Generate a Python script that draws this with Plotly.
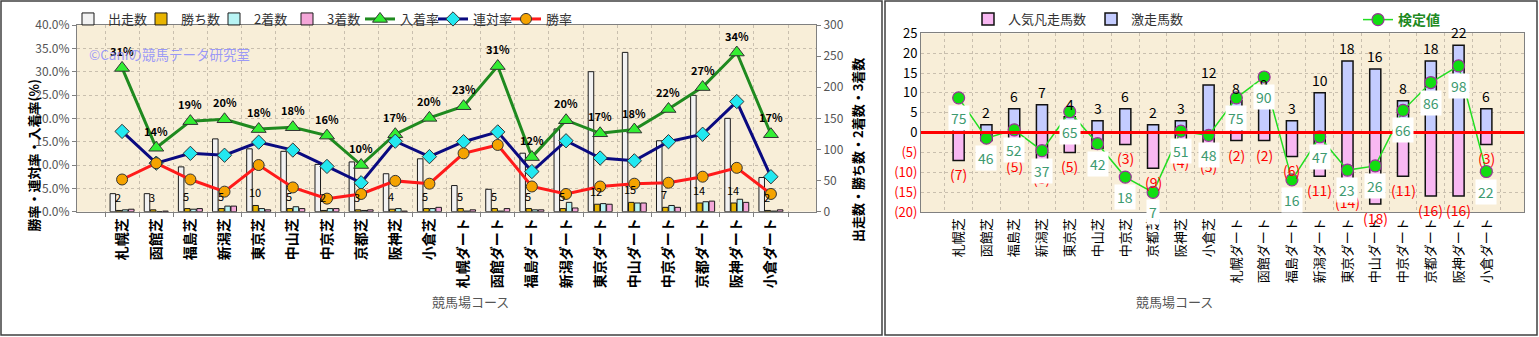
import plotly.graph_objects as go

# ---------------- data ----------------
courses = ["札幌芝", "函館芝", "福島芝", "新潟芝", "東京芝", "中山芝", "中京芝", "京都芝", "阪神芝", "小倉芝",
           "札幌ダート", "函館ダート", "福島ダート", "新潟ダート", "東京ダート", "中山ダート", "中京ダート",
           "京都ダート", "阪神ダート", "小倉ダート"]

runs = [29, 29, 72, 117, 101, 97, 76, 80, 61, 85, 42, 36, 94, 133, 225, 256, 114, 187, 150, 55]
wins = [2, 3, 5, 5, 10, 5, 2, 3, 4, 5, 5, 5, 5, 5, 12, 15, 7, 14, 14, 2]
seconds = [3, 0, 4, 9, 5, 8, 5, 2, 5, 5, 1, 1, 3, 15, 13, 14, 10, 16, 20, 1]
thirds = [4, 1, 5, 9, 3, 5, 5, 3, 1, 7, 3, 5, 3, 6, 12, 14, 7, 17, 15, 3]

win_rate = [6.9, 10.4, 6.9, 4.3, 10.0, 5.2, 2.8, 3.8, 6.6, 6.0, 12.5, 14.3, 5.4, 3.8, 5.4, 6.0, 6.2, 7.5, 9.4, 3.8]
rentai_rate = [17.2, 10.4, 12.5, 12.1, 14.9, 13.2, 9.7, 6.2, 15.1, 11.8, 15.0, 17.1, 8.6, 15.2, 11.5, 10.9, 15.0,
               16.6, 23.6, 7.5]
place_rate = [30.8, 13.7, 19.4, 19.8, 17.7, 18.1, 16.3, 10.0, 16.6, 20.1, 22.6, 31.2, 11.7, 19.6, 16.8, 17.6, 22.0,
              26.7, 34.1, 16.6]

geki = [1, 2, 6, 7, 4, 3, 6, 2, 3, 12, 8, 9, 3, 10, 18, 16, 8, 18, 22, 6]          # 激走馬数
bonso = [7, 2, 5, 8, 5, 4, 3, 9, 4, 5, 2, 2, 6, 11, 14, 18, 11, 16, 16, 3]         # 人気凡走馬数
kentei = [75, 46, 52, 37, 65, 42, 18, 7, 51, 48, 75, 90, 16, 47, 23, 26, 66, 86, 98, 22]  # 検定値

W, H = 1539, 337
FONT = "Noto Sans CJK JP"


def px(x):
    return x / W


def py(y):
    return 1 - y / H


fig = go.Figure()

# ---------------- left chart: bars (counts, base axis y) ----------------
bar_specs = [("出走数", runs, "#f2f2f2"), ("勝ち数", wins, "#e8b400"),
             ("2着数", seconds, "#b8f4f4"), ("3着数", thirds, "#f4a6d8")]
for name, vals, col in bar_specs:
    fig.add_trace(go.Bar(x=courses, y=vals, name=name, xaxis="x", yaxis="y",
                         marker=dict(color=col, line=dict(color="#1a1a1a", width=1)),
                         legend="legend"))

# lines (percent, overlay axis y2)
line_specs = [("入着率", place_rate, "#1f8a1f", "triangle-up", "#33ee33", 13),
              ("連対率", rentai_rate, "#0a0a80", "diamond", "#22e8f0", 11),
              ("勝率", win_rate, "#ff1a1a", "circle", "#f5a300", 11)]
for name, vals, lc, sym, mc, ms in line_specs:
    fig.add_trace(go.Scatter(x=courses, y=vals, name=name, xaxis="x", yaxis="y2",
                             mode="lines+markers", line=dict(color=lc, width=3),
                             marker=dict(symbol=sym, color=mc, size=ms, line=dict(color="#333333", width=1)),
                             legend="legend"))

# ---------------- right chart ----------------
fig.add_trace(go.Bar(x=courses, y=[-v for v in bonso], name="人気凡走馬数", xaxis="x2", yaxis="y3",
                     offsetgroup="r", width=0.4,
                     marker=dict(color="#f8b8f2", line=dict(color="#111111", width=1.5)),
                     legend="legend2"))
fig.add_trace(go.Bar(x=courses, y=geki, name="激走馬数", xaxis="x2", yaxis="y3",
                     offsetgroup="r", width=0.4,
                     marker=dict(color="#c4ccff", line=dict(color="#111111", width=1.5)),
                     legend="legend2"))
fig.add_trace(go.Scatter(x=courses, y=kentei, name="<b>検定値</b>", xaxis="x2", yaxis="y4",
                         mode="lines+markers", line=dict(color="#22dd22", width=1.5),
                         marker=dict(symbol="circle", color="#11dd11", size=12,
                                     line=dict(color="#993399", width=1.2)),
                         legend="legend3"))

# ---------------- axes ----------------
grid = dict(showgrid=True, gridcolor="#c9bfae", griddash="dot", gridwidth=1)
tickfont = dict(family=FONT, size=12, color="#555555")

fig.update_layout(
    xaxis=dict(domain=[px(77), px(816)], anchor="y", type="category", tickson="boundaries",
               tickangle=-90, tickfont=dict(family=FONT, size=14, color="#000000"),
               tickvals=courses, ticktext=[f"<b>{c}</b>" for c in courses],
               showline=True, linecolor="#808080", mirror=True, automargin=False,
               ticks="outside", ticklen=4, tickcolor="#808080", **grid),
    yaxis=dict(domain=[py(211.7), py(25)], anchor="x", side="right", range=[0, 300], dtick=50,
               tickfont=tickfont, showgrid=False, zeroline=False, showline=True, linecolor="#808080",
               ticks="outside", ticklen=4, tickcolor="#808080", automargin=False),
    yaxis2=dict(overlaying="y", anchor="x", side="left", range=[0, 40], dtick=5,
                tickformat=".1f", ticksuffix="%", tickfont=tickfont, zeroline=False, automargin=False,
                showline=True, linecolor="#808080", ticks="outside", ticklen=4, tickcolor="#808080", **grid),
    xaxis2=dict(domain=[px(921), px(1524)], anchor="y3", type="category", tickson="boundaries",
                tickangle=-90, tickfont=dict(family=FONT, size=13, color="#000000"), automargin=False,
                showline=True, linecolor="#808080", mirror=True, **grid),
    yaxis3=dict(domain=[py(212), py(33.3)], anchor="x2", range=[-20, 25],
                tickvals=[-20, -15, -10, -5, 0, 5, 10, 15, 20, 25],
                ticktext=['<span style="color:#ff0000">(20)</span>', '<span style="color:#ff0000">(15)</span>',
                          '<span style="color:#ff0000">(10)</span>', '<span style="color:#ff0000">(5)</span>',
                          "0", "5", "10", "15", "20", "25"],
                tickfont=dict(family=FONT, size=13, color="#000000"), zeroline=False, automargin=False,
                showline=True, linecolor="#808080", mirror=True, **grid),
    yaxis4=dict(overlaying="y3", anchor="x2", range=[-7.14, 121.43], visible=False),
    barmode="group", bargap=0.28, bargroupgap=0.1,
    width=W, height=H, margin=dict(l=0, r=0, t=0, b=0, autoexpand=False),
    paper_bgcolor="#ffffff", plot_bgcolor="#f8eed8",
    font=dict(family=FONT, size=13, color="#333333"),
    legend=dict(orientation="h", x=px(68), y=py(4), xanchor="left", yanchor="top",
                font=dict(family=FONT, size=13, color="#333333"), bgcolor="rgba(0,0,0,0)",
                itemwidth=30, entrywidth=28, entrywidthmode="pixels", tracegroupgap=0),
    legend2=dict(orientation="h", x=px(968), y=py(4), xanchor="left", yanchor="top",
                 font=dict(family=FONT, size=13, color="#333333"), bgcolor="rgba(0,0,0,0)", itemwidth=30),
    legend3=dict(orientation="h", x=px(1358), y=py(4), xanchor="left", yanchor="top",
                 font=dict(family=FONT, size=14, color="#1f8a1f"), bgcolor="rgba(0,0,0,0)", itemwidth=30),
)

# ---------------- annotations ----------------
ann = []
# 入着率 labels
for c, v in zip(courses, place_rate):
    ann.append(dict(x=c, y=v, xref="x", yref="y2", yshift=17, text=f"<b>{round(v)}%</b>", showarrow=False,
                    font=dict(family=FONT, size=11, color="#000000")))
# 勝ち数 labels
for c, v in zip(courses, wins):
    ann.append(dict(x=c, y=v, xref="x", yref="y", yshift=13, xshift=-4, text=str(v), showarrow=False,
                    font=dict(family=FONT, size=11, color="#000000")))
# right chart counts
for c, v in zip(courses, geki):
    ann.append(dict(x=c, y=v, xref="x2", yref="y3", yshift=13, text=str(v), showarrow=False,
                    font=dict(family=FONT, size=14, color="#000000")))
for c, v in zip(courses, bonso):
    ann.append(dict(x=c, y=-v, xref="x2", yref="y3", yshift=-14, text=f"({v})", showarrow=False,
                    font=dict(family=FONT, size=14, color="#ff0000")))
for c, v in zip(courses, kentei):
    ann.append(dict(x=c, y=v, xref="x2", yref="y4", yshift=-20, text=str(v), showarrow=False,
                    bgcolor="#ffffff", borderpad=2,
                    font=dict(family=FONT, size=14, color="#3d9a70")))

# titles & watermark
ann += [
    dict(x=px(21), y=py(156), xref="paper", yref="paper", text="<b>勝率・連対率・入着率(%)</b>", textangle=-90,
         showarrow=False, font=dict(family=FONT, size=13, color="#000000")),
    dict(x=px(857), y=py(150), xref="paper", yref="paper", text="<b>出走数・勝ち数・2着数・3着数</b>",
         textangle=-90, showarrow=False, font=dict(family=FONT, size=13, color="#000000")),
    dict(x=px(430), y=py(313), xref="paper", yref="paper", text="競馬場コース", showarrow=False,
         font=dict(family=FONT, size=13, color="#555555")),
    dict(x=px(1215), y=py(313), xref="paper", yref="paper", text="競馬場コース", showarrow=False,
         font=dict(family=FONT, size=13, color="#555555")),
    dict(x=px(87), y=py(42), xref="paper", yref="paper", xanchor="left", text="©Caniの競馬データ研究室",
         showarrow=False, font=dict(family=FONT, size=13.5, color="rgba(130,130,255,0.8)")),
]
fig.update_layout(annotations=ann)

# ---------------- shapes: frames, zero line ----------------
shapes = [
    dict(type="rect", xref="paper", yref="paper", x0=px(1), x1=px(882), y0=py(335), y1=py(1),
         line=dict(color="#404040", width=1.5)),
    dict(type="rect", xref="paper", yref="paper", x0=px(885), x1=px(1537), y0=py(335), y1=py(1),
         line=dict(color="#404040", width=1.5)),
    dict(type="line", xref="x2 domain", yref="y3", x0=0, x1=1, y0=0, y1=0, layer="above",
         line=dict(color="#ff0000", width=3)),
]
fig.update_layout(shapes=shapes)

fig.write_html("out.html")
